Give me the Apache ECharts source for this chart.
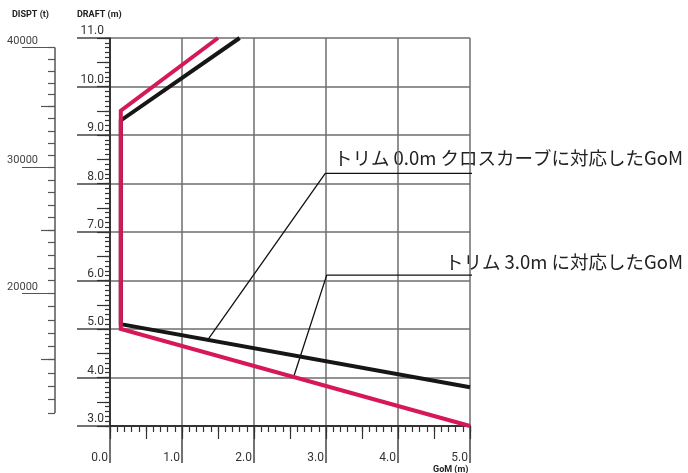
<!DOCTYPE html>
<html>
<head>
<meta charset="utf-8">
<script src="https://cdn.jsdelivr.net/npm/echarts@6/dist/echarts.min.js"></script>
<style>html,body{margin:0;padding:0;background:#fff}#c{width:688px;height:473px}</style>
</head>
<body>
<div id="c"></div>
<script>
// GoM (m) vs DRAFT (m)
const trim00 = [[5.0, 3.8], [0.15, 5.1], [0.15, 9.3], [1.8, 11.0]];
const trim30 = [[5.0, 3.0], [0.15, 5.0], [0.15, 9.5], [1.5, 11.0]];
// leader lines for annotations (GoM, DRAFT)
const leader00 = [[1.36, 4.78], [2.99, 8.21], [8.2, 8.21]];
const leader30 = [[2.55, 4.01], [3.01, 6.11], [8.2, 6.11]];
const label00 = 'トリム 0.0m クロスカーブに対応したGoM';
const label30 = 'トリム 3.0m に対応したGoM';
// displacement scale: displacement (t) and the draft (m) it lines up with
const dispValues = [11000,12000,13000,14000,15000,16000,17000,18000,19000,20000,
  21000,22000,23000,24000,25000,26000,27000,28000,29000,30000,
  31000,32000,33000,34000,35000,36000,37000,38000,39000,40000];
const dispDraft = [3.268,3.544,3.820,4.095,4.371,4.644,4.916,5.189,5.461,5.734,
  5.995,6.257,6.518,6.780,7.041,7.300,7.559,7.818,8.077,8.336,
  8.586,8.836,9.087,9.337,9.587,9.831,10.075,10.318,10.562,10.806];
const xTitle = 'GoM (m)';
const yTitle = 'DRAFT (m)';
const dTitle = 'DISPT (t)';

const minorD = dispDraft;
const midD = dispDraft.filter((d, i) => dispValues[i] % 5000 === 0 && dispValues[i] % 10000 !== 0);
const majD = dispDraft.filter((d, i) => dispValues[i] % 10000 === 0);
function dispLabel(v) {
  for (let i = 0; i < dispDraft.length; i++) {
    if (Math.abs(dispDraft[i] - v) < 1e-6) return String(dispValues[i]);
  }
  return '';
}

const GRAY = '#6e6e6e';
const BLACK = '#161616';
const RED = '#d6175a';
const tickFont = { fontFamily: 'Roboto', fontSize: 12, color: '#333' };

const chart = echarts.init(document.getElementById('c'), null, { renderer: 'canvas' });
const hidden = { show: false };
chart.setOption({
  animation: false,
  backgroundColor: '#fff',
  grid: [
    { left: 110, top: 38, width: 360, height: 388 },
    { left: 55, top: 38, width: 10, height: 388 }
  ],
  xAxis: [
    { gridIndex: 0, type: 'value', min: 0, max: 5, interval: 1, position: 'bottom',
      axisLine: { show: true, onZero: false, lineStyle: { color: BLACK, width: 1.5 } },
      axisTick: { show: true, length: 37, lineStyle: { color: '#444', width: 1.5 } },
      axisLabel: Object.assign({ align: 'right', margin: 26, padding: [0, 2, 0, 0],
        formatter: v => v.toFixed(1) }, tickFont),
      splitLine: { show: true, lineStyle: { color: GRAY, width: 1.5 } } },
    { gridIndex: 0, type: 'value', min: 0, max: 5, interval: 0.1, position: 'bottom',
      axisLine: hidden, axisLabel: hidden, splitLine: hidden,
      axisTick: { show: true, length: 6, lineStyle: { color: '#333', width: 1.2 } } },
    { gridIndex: 0, type: 'value', min: 0, max: 5, interval: 0.5, position: 'bottom',
      axisLine: hidden, axisLabel: hidden, splitLine: hidden,
      axisTick: { show: true, length: 13, lineStyle: { color: '#333', width: 1.2 } } },
    { gridIndex: 1, type: 'value', min: 0, max: 1, show: false }
  ],
  yAxis: [
    { gridIndex: 0, type: 'value', min: 3, max: 11, interval: 1, position: 'left',
      axisLine: { show: true, onZero: false, lineStyle: { color: BLACK, width: 1.5 } },
      axisTick: { show: true, length: 33, lineStyle: { color: '#444', width: 1.5 } },
      axisLabel: Object.assign({ margin: 6, verticalAlign: 'bottom', padding: [0, 0, 1, 0],
        formatter: v => v.toFixed(1) }, tickFont),
      splitLine: { show: true, lineStyle: { color: GRAY, width: 1.5 } } },
    { gridIndex: 0, type: 'value', min: 3, max: 11, interval: 0.1, position: 'left',
      axisLine: hidden, axisLabel: hidden, splitLine: hidden,
      axisTick: { show: true, length: 5, lineStyle: { color: '#333', width: 1.2 } } },
    { gridIndex: 0, type: 'value', min: 3, max: 11, interval: 0.5, position: 'left',
      axisLine: hidden, axisLabel: hidden, splitLine: hidden,
      axisTick: { show: true, length: 13, lineStyle: { color: '#333', width: 1.2 } } },
    { gridIndex: 1, type: 'value', min: 3, max: 11, position: 'left',
      axisLine: hidden, axisLabel: { show: false }, splitLine: hidden,
      axisTick: { show: true, length: 7, customValues: minorD, lineStyle: { color: '#555', width: 1.2 } } },
    { gridIndex: 1, type: 'value', min: 3, max: 11, position: 'left',
      axisLine: hidden, axisLabel: { show: false }, splitLine: hidden,
      axisTick: { show: true, length: 14, customValues: midD, lineStyle: { color: '#555', width: 1.2 } } },
    { gridIndex: 1, type: 'value', min: 3, max: 11, position: 'left',
      axisLine: hidden, splitLine: hidden,
      axisTick: { show: true, length: 33, customValues: majD, lineStyle: { color: '#555', width: 1.2 } },
      axisLabel: { show: true, customValues: majD, formatter: dispLabel, margin: 17,
        verticalAlign: 'bottom', padding: [0, 0, 1, 0],
        fontFamily: 'Roboto', fontSize: 11, color: '#444' } }
  ],
  series: [
    { type: 'line', xAxisIndex: 0, yAxisIndex: 0, data: trim00, symbol: 'none', z: 5,
      lineStyle: { color: BLACK, width: 4, join: 'miter' } },
    { type: 'line', xAxisIndex: 0, yAxisIndex: 0, data: trim30, symbol: 'none', z: 6,
      lineStyle: { color: RED, width: 4, join: 'miter' } },
    { type: 'line', xAxisIndex: 0, yAxisIndex: 0, data: leader00, symbol: 'none', clip: false, z: 4,
      lineStyle: { color: '#111', width: 1.3 } },
    { type: 'line', xAxisIndex: 0, yAxisIndex: 0, data: leader30, symbol: 'none', clip: false, z: 4,
      lineStyle: { color: '#111', width: 1.3 } },
    { type: 'line', xAxisIndex: 3, yAxisIndex: 3,
      data: [[0, dispDraft[0]], [0, dispDraft[dispDraft.length - 1]]], symbol: 'none',
      lineStyle: { color: '#555', width: 1.5 } }
  ],
  graphic: [
    { type: 'text', left: 12, top: 10, style: { text: dTitle, font: 'bold 9px Roboto', fill: '#222' } },
    { type: 'text', left: 77, top: 10, style: { text: yTitle, font: 'bold 9px Roboto', fill: '#222' } },
    { type: 'text', left: 433, top: 465, style: { text: xTitle, font: 'bold 9px Roboto', fill: '#222' } },
    { type: 'text', right: 5, top: 149, style: { text: label00, font: '18.5px "Noto Sans CJK JP"', fill: '#222' } },
    { type: 'text', right: 5, top: 253, style: { text: label30, font: '18.5px "Noto Sans CJK JP"', fill: '#222' } }
  ]
});
</script>
</body>
</html>
